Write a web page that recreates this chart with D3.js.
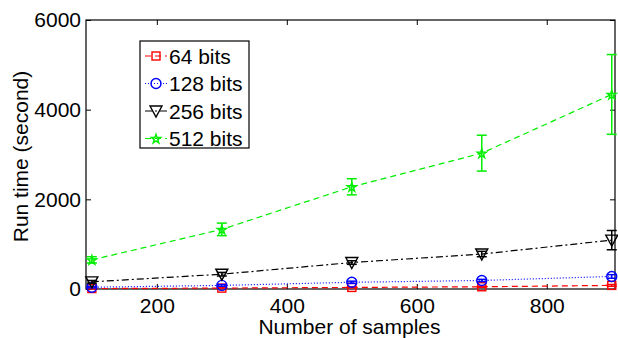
<!DOCTYPE html>
<html><head><meta charset="utf-8">
<script src="https://cdn.jsdelivr.net/npm/d3@7"></script>
<style>body{margin:0;background:#fff}svg{display:block}text{font-family:"Liberation Sans",Arial,sans-serif}</style>
</head><body><svg id="c" width="618" height="338"></svg>
<script>
const samples = [100, 300, 500, 700, 900];
const bits64 = [10, 20, 35, 50, 80];
const err64 = [8, 8, 10, 12, 20];
const bits128 = [40, 80, 150, 190, 280];
const err128 = [15, 20, 25, 25, 40];
const bits256 = [160, 330, 590, 780, 1090];
const err256 = [30, 40, 40, 60, 215];
const bits512 = [650, 1330, 2280, 3030, 4340];
const err512 = [70, 140, 180, 400, 890];
const xTicks = [200, 400, 600, 800];
const yTicks = [0, 2000, 4000, 6000];
const seriesNames = ["64 bits", "128 bits", "256 bits", "512 bits"];

const series = [
  {name: seriesNames[0], v: bits64, e: err64, color: "#ff0000", dash: "6,4", sym: "square"},
  {name: seriesNames[1], v: bits128, e: err128, color: "#0000ff", dash: "1,2", sym: "circle"},
  {name: seriesNames[2], v: bits256, e: err256, color: "#000000", dash: "7,3,2,3", sym: "tri"},
  {name: seriesNames[3], v: bits512, e: err512, color: "#00ee00", dash: "6,4", sym: "star"}
];

const L = 86, R = 615, T = 20, B = 289;
const svg = d3.select("#c");
const x = d3.scaleLinear().domain([91, 905]).range([L, R]);
const y = d3.scaleLinear().domain([0, 6000]).range([B, T]);

svg.append("rect").attr("x", L).attr("y", T).attr("width", R - L).attr("height", B - T)
  .attr("fill", "none").attr("stroke", "#000").attr("stroke-width", 1.2);

const fs = "21px";
svg.append("g").attr("transform", `translate(0,${B})`)
  .call(d3.axisBottom(x).tickValues(xTicks).tickSize(-5).tickPadding(9));
svg.append("g").attr("transform", `translate(${L},0)`)
  .call(d3.axisLeft(y).tickValues(yTicks).tickSize(-5).tickPadding(5).tickFormat(d3.format("d")));
svg.append("g").attr("transform", `translate(0,${T})`)
  .call(d3.axisTop(x).tickValues(xTicks).tickSize(-5).tickFormat(""));
svg.append("g").attr("transform", `translate(${R},0)`)
  .call(d3.axisRight(y).tickValues(yTicks).tickSize(-5).tickFormat(""));
svg.selectAll(".domain").remove();
svg.selectAll(".tick line").attr("stroke", "#000");
svg.selectAll(".tick text").attr("font-size", fs).attr("fill", "#000").attr("font-family", "Liberation Sans, Arial, sans-serif");

svg.append("text").attr("x", (L + R) / 2 - 1).attr("y", 334).attr("text-anchor", "middle")
  .attr("font-size", fs).text("Number of samples");
svg.append("text").attr("transform", `translate(28,${(T + B) / 2 + 2}) rotate(-90)`)
  .attr("text-anchor", "middle").attr("font-size", fs).text("Run time (second)");

function marker(sel, s, cx, cy) {
  let m;
  if (s.sym === "square") m = sel.append("rect").attr("x", cx - 4).attr("y", cy - 4).attr("width", 8).attr("height", 8);
  else if (s.sym === "circle") m = sel.append("circle").attr("cx", cx).attr("cy", cy).attr("r", 5);
  else if (s.sym === "tri") m = sel.append("path").attr("d", `M${cx - 6},${cy - 5}L${cx + 6},${cy - 5}L${cx},${cy + 6}Z`);
  else m = sel.append("path").attr("d", d3.symbol(d3.symbolStar, 26)()).attr("transform", `translate(${cx},${cy + 0.5})`);
  m.attr("fill", "none").attr("stroke", s.color).attr("stroke-width", 1.4);
}

const line = d3.line().x((d, i) => x(samples[i])).y(d => y(d));
series.forEach(s => {
  const sg = svg.append("g");
  sg.append("path").datum(s.v).attr("d", line).attr("fill", "none")
    .attr("stroke", s.color).attr("stroke-width", 1.2).attr("stroke-dasharray", s.dash);
  s.v.forEach((v, i) => {
    const cx = x(samples[i]);
    const y1 = y(v + s.e[i]), y0 = y(v - s.e[i]);
    sg.append("line").attr("x1", cx).attr("x2", cx).attr("y1", y1).attr("y2", y0).attr("stroke", s.color).attr("stroke-width", 1.5);
    sg.append("line").attr("x1", cx - 5).attr("x2", cx + 5).attr("y1", y1).attr("y2", y1).attr("stroke", s.color).attr("stroke-width", 1.5);
    sg.append("line").attr("x1", cx - 5).attr("x2", cx + 5).attr("y1", y0).attr("y2", y0).attr("stroke", s.color).attr("stroke-width", 1.5);
    marker(sg, s, cx, y(v));
  });
});

const lg = svg.append("g");
lg.append("rect").attr("x", 140).attr("y", 41).attr("width", 109).attr("height", 107)
  .attr("fill", "#fff").attr("stroke", "#000").attr("stroke-width", 1.2);
series.forEach((s, i) => {
  const cy = 56 + i * 27.5;
  lg.append("line").attr("x1", 145).attr("x2", 167).attr("y1", cy).attr("y2", cy)
    .attr("stroke", s.color).attr("stroke-width", 1.2).attr("stroke-dasharray", s.dash);
  marker(lg, s, 156, cy);
  lg.append("text").attr("x", 169).attr("y", cy + 7.5).attr("font-size", fs).text(s.name);
});
</script></body></html>
